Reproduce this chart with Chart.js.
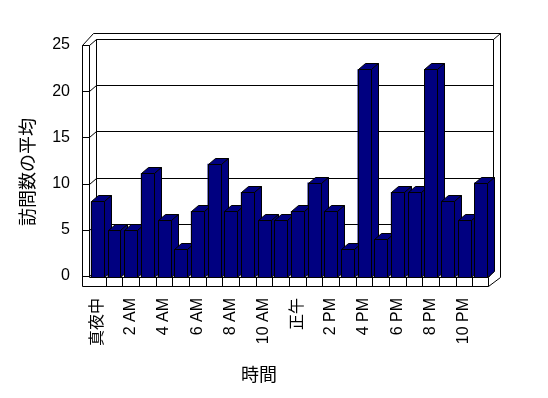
<!DOCTYPE html>
<html><head><meta charset="utf-8">
<script src="https://cdn.jsdelivr.net/npm/chart.js@4/dist/chart.umd.min.js"></script>
<style>html,body{margin:0;padding:0;background:#fff;overflow:hidden}</style>
</head><body>
<canvas id="c" width="548" height="398" style="width:548px;height:398px;display:block"></canvas>
<script>
const categories = ['真夜中','1 AM','2 AM','3 AM','4 AM','5 AM','6 AM','7 AM','8 AM','9 AM','10 AM','11 AM',
                    '正午','1 PM','2 PM','3 PM','4 PM','5 PM','6 PM','7 PM','8 PM','9 PM','10 PM','11 PM'];
const visits = [8,5,5,11,6,3,7,12,7,9,6,6,7,10,7,3,22,4,9,9,22,8,6,10];
const yTickValues = [0,5,10,15,20,25];
const xTitle = '時間';
const yTitle = '訪問数の平均';

const FONT = "'Liberation Sans', 'Noto Sans CJK JP', sans-serif";
const DX = 7, DY = 6;
const BAR = '#000080';

function line(ctx, pts){
  ctx.beginPath();
  ctx.moveTo(pts[0][0], pts[0][1]);
  for (let i=1;i<pts.length;i++) ctx.lineTo(pts[i][0], pts[i][1]);
  ctx.stroke();
}
function poly(ctx, pts){
  ctx.beginPath();
  ctx.moveTo(pts[0][0], pts[0][1]);
  for (let i=1;i<pts.length;i++) ctx.lineTo(pts[i][0], pts[i][1]);
  ctx.closePath(); ctx.fill(); ctx.stroke();
}

const frame3d = {
  id:'frame3d',
  beforeDatasetsDraw(chart){
    const ctx = chart.ctx, ca = chart.chartArea, ys = chart.scales.y2;
    const L = ca.left, R = ca.right, B = ca.bottom;
    const p = v => Math.round(ys.getPixelForValue(v)) + 0.5;
    const t = p(yTickValues[yTickValues.length-1]);
    const xl = L - 7 + 0.5, xL = L + 0.5, xb = L + 7 + 0.5, xr = R + 4 + 0.5, xo = R + 11 + 0.5;
    const yb = B + 0.5, yf = B + 9 + 0.5;
    ctx.save();
    ctx.lineWidth = 1; ctx.strokeStyle = '#000';
    // back wall + gridlines
    line(ctx, [[xb, t-6],[xr, t-6]]);
    line(ctx, [[xb, t-6],[xb, yb-6]]);
    line(ctx, [[xr, t-6],[xr, yb-6]]);
    yTickValues.forEach(v => {
      const y = p(v);
      line(ctx, [[xb, y-6],[xr, y-6]]);
      line(ctx, [[xl, y],[xL, y],[xb, y-6]]);
    });
    // outer frame
    line(ctx, [[xl, yf],[xl, t],[xL, t]]);
    line(ctx, [[xl, t],[L+4.5, t-12],[xo, t-12],[xo, yb]]);
    line(ctx, [[xL, t],[xL, yb]]);
    line(ctx, [[xr, t-6],[xo, t-12]]);
    // floor slab
    const xs = chart.scales.x;
    const w = (R - L) / categories.length;
    const fr = R - 1 + 0.5;
    line(ctx, [[xl, yf],[fr, yf],[xo, yb]]);
    line(ctx, [[xL, yb],[fr, yb],[xr, yb-6]]);
    for (let i=1;i<categories.length;i++){
      const x = Math.round(L + i*w) + 0.5;
      line(ctx, [[x, yb],[x, yf]]);
    }
    line(ctx, [[fr, yb],[fr, yf]]);
    ctx.restore();
  },
  afterDatasetsDraw(chart){
    const ctx = chart.ctx;
    const meta = chart.getDatasetMeta(0);
    ctx.save();
    ctx.lineWidth = 1; ctx.strokeStyle = '#000'; ctx.fillStyle = BAR;
    meta.data.forEach(bar => {
      const {x, y, base, width} = bar.getProps(['x','y','base','width'], true);
      const l = Math.round(x - width/2) + 0.5, r = Math.round(x + width/2) + 0.5;
      const tp = Math.round(y) + 0.5, b = Math.round(base) + 0.5;
      ctx.beginPath(); ctx.rect(l, tp, r-l, b-tp); ctx.fill(); ctx.stroke();
      poly(ctx, [[l,tp],[l+DX,tp-DY],[r+DX,tp-DY],[r,tp]]);
      poly(ctx, [[r,tp],[r+DX,tp-DY],[r+DX,b-DY],[r,b]]);
    });
    ctx.restore();
  },
  afterDraw(chart){
    const ctx = chart.ctx;
    ctx.save();
    ctx.fillStyle = '#000';
    ctx.font = '18px ' + FONT;
    ctx.textAlign = 'center'; ctx.textBaseline = 'middle';
    ctx.fillText(xTitle, 259, 376);
    ctx.translate(29, 172);
    ctx.rotate(-Math.PI/2);
    ctx.fillText(yTitle, 0, 0);
    ctx.restore();
  }
};

// label axis: front-plane scale (0 at 1px above floor, 25 at 4px below top)
const span = 236;
const lblRange = 25 * span / 231;
const lblMin = -lblRange / span;
const lblMax = lblMin + lblRange;

new Chart(document.getElementById('c'), {
  type:'bar',
  data:{ labels: categories, datasets:[{ data: visits, backgroundColor: BAR, borderColor:'#000', borderWidth:0,
         barPercentage:0.78, categoryPercentage:1.0, yAxisID:'y' }]},
  options:{
    responsive:false, animation:false, devicePixelRatio:1,
    layout:{ padding:{ top:41, right:59, left:0, bottom:0 } },
    plugins:{ legend:{display:false}, tooltip:{enabled:false} },
    scales:{
      x:{ type:'category', offset:true,
          grid:{display:false, drawTicks:false}, border:{display:false},
          ticks:{ autoSkip:false, minRotation:90, maxRotation:90, padding:21, color:'#000',
                  font:{size:16, family:FONT},
                  callback:(v,i)=> i%2===0 ? categories[i] : '' },
          afterFit: s => { s.height = 121; } },
      y:{ display:false, min:0, max:25 },
      y2:{ type:'linear', position:'left', min: lblMin, max: lblMax,
           grid:{display:false, drawTicks:false}, border:{display:false},
           ticks:{ stepSize:5, includeBounds:false, padding:19, color:'#000',
                   font:{size:16, family:FONT},
                   callback: v => yTickValues.includes(Math.round(v)) && Math.abs(v-Math.round(v))<1e-6 ? String(Math.round(v)) : null },
           afterFit: s => { s.width = 89; } }
    }
  },
  plugins:[frame3d]
});
</script>
</body></html>
